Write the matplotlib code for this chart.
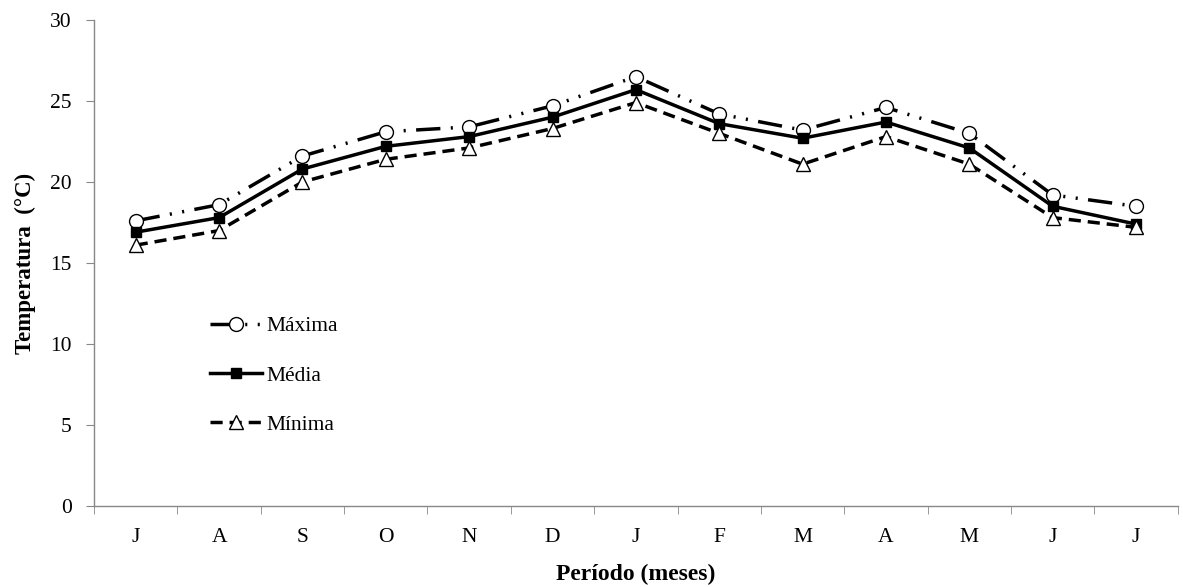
import matplotlib.pyplot as plt

plt.rcParams['font.family'] = ['Liberation Serif', 'DejaVu Serif']

meses = ['J', 'A', 'S', 'O', 'N', 'D', 'J', 'F', 'M', 'A', 'M', 'J', 'J']
maxima = [17.6, 18.6, 21.6, 23.1, 23.4, 24.7, 26.5, 24.2, 23.2, 24.6, 23.0, 19.2, 18.5]
media = [16.9, 17.8, 20.8, 22.2, 22.8, 24.0, 25.7, 23.6, 22.7, 23.7, 22.1, 18.5, 17.4]
minima = [16.1, 17.0, 20.0, 21.4, 22.1, 23.3, 24.9, 23.0, 21.1, 22.8, 21.1, 17.8, 17.2]

fig = plt.figure(figsize=(11.83, 5.87), dpi=100)
ax = fig.add_axes([0.0795, 0.138, 0.916, 0.828])

x = list(range(len(meses)))
ax.plot(x, maxima, color='black', lw=2.5, linestyle=(0, (7, 3, 0.6, 3, 0.6, 3)),
        marker='o', ms=10, mfc='white', mec='black', mew=1, label='Máxima')
ax.plot(x, media, color='black', lw=2.5, linestyle='-',
        marker='s', ms=7, mfc='black', mec='black', label='Média')
ax.plot(x, minima, color='black', lw=2.5, linestyle=(0, (3.5, 2)),
        marker='^', ms=10, mfc='white', mec='black', mew=1, label='Mínima')

ax.set_xlim(-0.5, len(meses) - 0.5)
ax.set_ylim(0, 30)
ax.set_yticks(range(0, 31, 5))
ax.set_xticks(x)
ax.set_xticklabels(meses)
ax.set_xticks([i - 0.5 for i in range(len(meses) + 1)], minor=True)
ax.tick_params(axis='x', which='major', length=0, pad=16, labelsize=15.5)
ax.tick_params(axis='x', which='minor', length=6, direction='out', color='#888888')
ax.tick_params(axis='y', length=6, direction='out', color='#888888', labelsize=15.5, pad=10)

for s in ['top', 'right']:
    ax.spines[s].set_visible(False)
for s in ['left', 'bottom']:
    ax.spines[s].set_color('#888888')
    ax.spines[s].set_linewidth(1)

ax.set_ylabel('Temperatura  (°C)', fontsize=16.5, fontweight='bold', labelpad=10)
ax.set_xlabel('Período (meses)', fontsize=17, fontweight='bold', labelpad=12)

ax.legend(loc='upper left', bbox_to_anchor=(0.089, 0.43), frameon=False,
          fontsize=15.5, labelspacing=1.35, handlelength=2.4, handletextpad=0.25)

fig.savefig('out.png', dpi=100)
